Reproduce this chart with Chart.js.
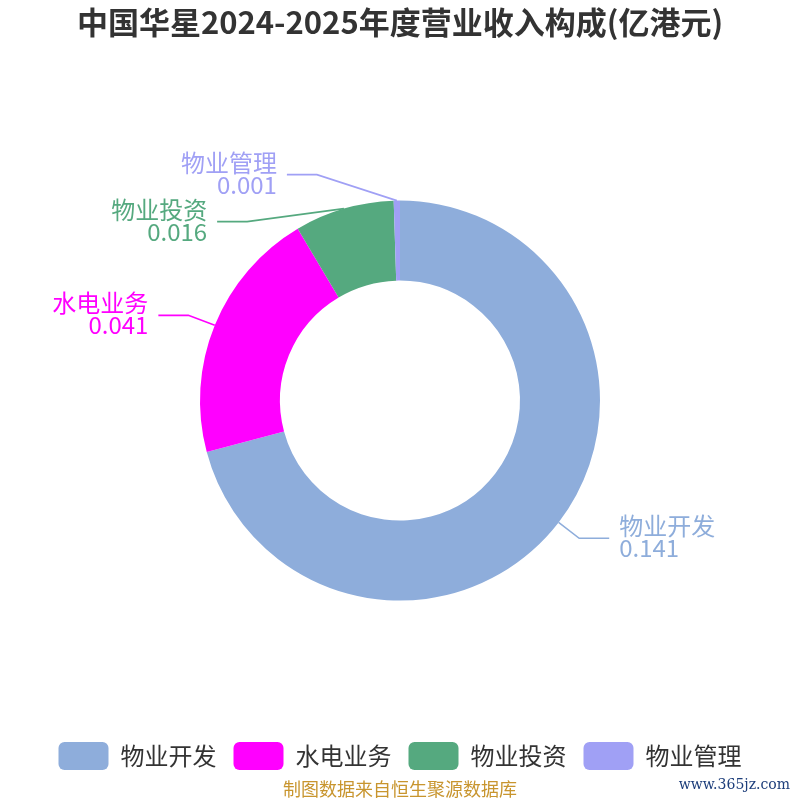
<!DOCTYPE html>
<html>
<head>
<meta charset="utf-8">
<script src="https://cdn.jsdelivr.net/npm/chart.js@4/dist/chart.umd.min.js"></script>
<style>
  html, body { margin: 0; padding: 0; background: #fff; }
  #wrap { width: 800px; height: 800px; }
</style>
</head>
<body>
<div id="wrap"><canvas id="revenue-chart"></canvas></div>
<script>
// 数据
const categories = ['物业开发', '水电业务', '物业投资', '物业管理'];
const revenue = [0.141, 0.041, 0.016, 0.001];
const sliceColors = ['#8eaddb', '#ff00ff', '#55a97f', '#a0a0f5'];
const chartTitle = '中国华星2024-2025年度营业收入构成(亿港元)';
const sourceNote = '制图数据来自恒生聚源数据库';

Chart.defaults.font.family = '"Noto Sans CJK SC", "Noto Sans", sans-serif';

// 外部标签 + 引导线
const pieLabels = {
  id: 'pieLabels',
  afterDatasetsDraw(chart, args, opts) {
    const ctx = chart.ctx;
    const meta = chart.getDatasetMeta(0);
    const items = meta.data.map((arc, i) => {
      const p = arc.getProps(['x', 'y', 'startAngle', 'endAngle', 'outerRadius'], true);
      const a = (p.startAngle + p.endAngle) / 2;
      const rA = p.outerRadius + opts.len1;
      return {
        i, cx: p.x, cy: p.y, rA,
        px: p.x + Math.cos(a) * p.outerRadius,
        py: p.y + Math.sin(a) * p.outerRadius,
        ex: p.x + Math.cos(a) * rA,
        ey: p.y + Math.sin(a) * rA,
        dir: Math.cos(a) >= 0 ? 1 : -1
      };
    });

    // 避免同侧标签重叠
    [1, -1].forEach(dir => {
      const side = items.filter(it => it.dir === dir).sort((a, b) => a.ey - b.ey);
      let moved = false;
      for (let k = 1; k < side.length; k++) {
        const min = side[k - 1].ey + opts.gap;
        if (side[k].ey < min) { side[k].ey = min; moved = true; }
      }
      if (moved) {
        side.forEach(it => {
          const dy = it.ey - it.cy;
          const rB = it.rA + opts.ellipse;
          const t = Math.max(0, 1 - (dy * dy) / (rB * rB));
          it.ex = it.cx + dir * it.rA * Math.sqrt(t);
        });
      }
    });

    ctx.save();
    items.forEach(it => {
      const color = sliceColors[it.i];
      const endX = it.ex + it.dir * opts.len2;
      ctx.strokeStyle = color;
      ctx.lineWidth = 1.6;
      ctx.beginPath();
      ctx.moveTo(it.px, it.py);
      ctx.lineTo(it.ex, it.ey);
      ctx.lineTo(endX, it.ey);
      ctx.stroke();

      const tx = endX + it.dir * 10;
      ctx.fillStyle = color;
      ctx.font = '24px "Noto Sans CJK SC", "Noto Sans", sans-serif';
      ctx.textAlign = it.dir > 0 ? 'left' : 'right';
      ctx.textBaseline = 'middle';
      ctx.fillText(categories[it.i], tx, it.ey - 12);
      ctx.fillText(String(revenue[it.i]), tx, it.ey + 10);
    });
    ctx.restore();
  },
  afterDraw(chart) {
    const ctx = chart.ctx;
    ctx.save();
    ctx.textBaseline = 'middle';
    ctx.textAlign = 'center';
    ctx.fillStyle = '#c8952e';
    ctx.font = '18px "Noto Sans CJK SC", sans-serif';
    ctx.fillText(sourceNote, chart.width / 2, 789);
    ctx.textAlign = 'right';
    ctx.fillStyle = '#1c3d7a';
    ctx.font = '14px "DejaVu Serif", serif';
    ctx.fillText('www.365jz.com', 790, 785);
    ctx.restore();
  }
};

const ctx = document.getElementById('revenue-chart').getContext('2d');
const revenueChart = new Chart(ctx, {
  type: 'doughnut',
  data: {
    labels: categories,
    datasets: [{
      data: revenue,
      backgroundColor: sliceColors,
      borderWidth: 0,
      radius: 200,
      cutout: '60%'
    }]
  },
  options: {
    responsive: true,
    maintainAspectRatio: false,
    animation: false,
    layout: { padding: { bottom: 20 } },
    plugins: {
      title: {
        display: true,
        text: chartTitle,
        color: '#333333',
        font: { size: 31, weight: 'bold' },
        padding: { top: 4, bottom: 35 }
      },
      legend: {
        position: 'bottom',
        labels: {
          boxWidth: 50,
          boxHeight: 28,
          useBorderRadius: true,
          borderRadius: 6,
          padding: 17,
          color: '#333333',
          font: { size: 24 }
        }
      },
      tooltip: { enabled: false },
      pieLabels: { len1: 26, len2: 30, gap: 47, ellipse: 17 }
    }
  },
  plugins: [pieLabels]
});
</script>
</body>
</html>
